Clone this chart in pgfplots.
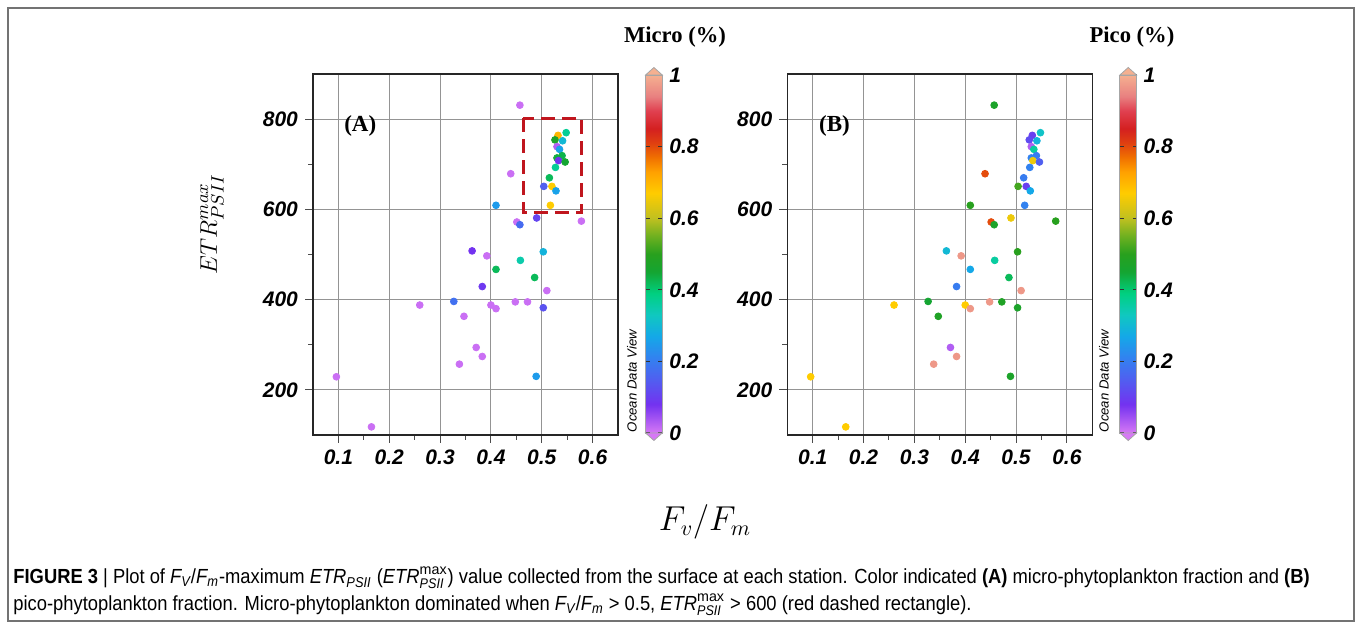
\documentclass[border=0pt]{standalone}
\usepackage{pgfplots}
\usepackage{pgfplotstable}
\pgfplotsset{compat=1.18}
\usepackage{fontspec}
\setmainfont{Liberation Sans}
\newfontfamily\seriffont{Liberation Serif}
\newfontfamily\capfont[FakeStretch=0.9]{Liberation Sans}

\definecolor{cbtop}{RGB}{245,176,144}
\definecolor{cbbot}{RGB}{214,120,245}
\definecolor{boxred}{RGB}{192,22,30}

\pgfplotsset{colormap={odv}{
rgb255(0pt)=(214,120,245)
rgb255(8pt)=(115,50,240)
rgb255(15pt)=(80,95,240)
rgb255(21pt)=(50,130,240)
rgb255(27pt)=(20,168,232)
rgb255(33pt)=(16,200,192)
rgb255(39pt)=(0,208,128)
rgb255(45pt)=(20,165,50)
rgb255(50pt)=(40,160,30)
rgb255(55pt)=(110,176,32)
rgb255(60pt)=(192,192,32)
rgb255(67pt)=(255,204,0)
rgb255(73pt)=(255,160,0)
rgb255(77pt)=(240,112,0)
rgb255(81pt)=(224,64,16)
rgb255(85pt)=(212,32,32)
rgb255(90pt)=(224,64,80)
rgb255(94pt)=(232,128,128)
rgb255(100pt)=(245,176,144)
}}

\pgfplotstableread{
x y micro pico
0.457 831 0.01 0.47
0.532 764 0.70 0.10
0.548 770 0.37 0.32
0.526 754 0.47 0.12
0.541 752 0.30 0.29
0.530 739 0.03 0.03
0.535 733 0.26 0.36
0.540 719 0.43 0.20
0.530 714 0.44 0.21
0.533 708 0.08 0.65
0.546 705 0.45 0.15
0.527 693 0.37 0.21
0.515 670 0.42 0.20
0.504 651 0.15 0.52
0.520 651 0.67 0.10
0.528 641 0.26 0.27
0.517 609 0.67 0.21
0.439 679 0.01 0.80
0.410 609 0.25 0.50
0.490 581 0.11 0.65
0.451 572 0.01 0.80
0.457 566 0.17 0.47
0.578 574 0.01 0.50
0.363 508 0.08 0.30
0.392 497 0.01 0.97
0.503 506 0.29 0.50
0.458 487 0.35 0.36
0.410 467 0.42 0.27
0.486 449 0.42 0.42
0.383 429 0.09 0.20
0.510 420 0.01 0.97
0.260 388 0.01 0.67
0.327 396 0.18 0.45
0.400 388 0.01 0.67
0.410 380 0.01 0.97
0.448 395 0.01 0.97
0.472 395 0.01 0.48
0.503 382 0.13 0.47
0.347 363 0.01 0.48
0.371 294 0.01 0.03
0.383 274 0.01 0.97
0.338 257 0.01 0.97
0.489 230 0.25 0.47
0.096 229 0.01 0.67
0.165 118 0.01 0.67
}\data

\pgfplotsset{
 odvaxis/.style={
  scale only axis, width=152.5pt, height=180.5pt,
  xmin=0.05, xmax=0.65, ymin=100, ymax=900,
  xtick={0.1,0.2,0.3,0.4,0.5,0.6},
  xticklabels={0.1,0.2,0.3,0.4,0.5,0.6},
  ytick={200,400,600,800},
  minor x tick num=1, minor y tick num=1,
  grid=major, major grid style={black!42, line width=0.55pt},
  axis line style={black!85, line width=0.7pt},
  tick align=outside, tick pos=left,
  major tick length=4pt, minor tick length=2.5pt,
  every tick/.style={black!70, line width=0.5pt},
  ticklabel style={font=\fontsize{10.5}{12}\selectfont\bfseries\itshape},
  /pgf/number format/assume math mode=true,
  colormap name=odv, point meta min=0, point meta max=1,
  colorbar,
 },
 odvcb/.style={
  width=8.35pt, height=179pt,
  at={(parent axis.south east)}, anchor=south west, xshift=5.25pt, yshift=1pt,
  ytick={0,0.2,0.4,0.6,0.8,1}, yticklabels={0,0.2,0.4,0.6,0.8,1},
  ytick pos=both, yticklabel pos=right,
  tick align=inside, major tick length=2pt,
  every tick/.style={black!80, line width=0.5pt},
  axis line style={black!35, line width=0.4pt},
  yticklabel style={font=\fontsize{10.5}{12}\selectfont\bfseries\itshape},
  /pgf/number format/assume math mode=true,
 },
 odvscatter/.style={scatter, only marks, mark=*, mark size=1.7pt,
  scatter src=explicit,
  scatter/use mapped color={draw=mapped color, fill=mapped color}},
}

\begin{document}
\begin{tikzpicture}
\path[use as bounding box] (0pt,0pt) rectangle (678.5pt,-312.5pt);

\begin{axis}[odvaxis, name=A, at={(156.5pt,-217.5pt)}, anchor=south west,
  colorbar style={odvcb, name=cbA}]
\addplot[odvscatter] table[x=x, y=y, meta=micro] {\data};
\draw[boxred, line width=1.5pt, dash pattern=on 7pt off 3.5pt]
  (axis cs:0.464,802) rectangle (axis cs:0.578,593);
\node[font=\seriffont\bfseries\fontsize{11.5}{13}\selectfont] at (axis cs:0.143,785) {(A)};
\end{axis}

\begin{axis}[odvaxis, name=B, at={(393.65pt,-217.5pt)}, anchor=south west,
  colorbar style={odvcb, name=cbB}]
\addplot[odvscatter] table[x=x, y=y, meta=pico] {\data};
\node[font=\seriffont\bfseries\fontsize{11.5}{13}\selectfont] at (axis cs:0.143,785) {(B)};
\end{axis}

\foreach \cb in {cbA,cbB}{
  \filldraw[fill=cbtop, draw=black!35, line width=0.4pt]
    (\cb.north west) -- ([yshift=3.75pt]\cb.north) -- (\cb.north east) -- cycle;
  \filldraw[fill=cbbot, draw=black!35, line width=0.4pt]
    (\cb.south west) -- ([yshift=-3.75pt]\cb.south) -- (\cb.south east) -- cycle;
}

\begin{scope}[x=0.5pt, y=-0.5pt]
\draw[black!55, line width=1pt] (8,8) rectangle (1354,621);
\node[anchor=base, font=\seriffont\bfseries\fontsize{11.3}{13}\selectfont] at (675,43) {Micro (\%)};
\node[anchor=base, font=\seriffont\bfseries\fontsize{11.3}{13}\selectfont] at (1132,43) {Pico (\%)};
\node[rotate=90, font=\itshape\fontsize{6.6}{7}\selectfont] at (632,381) {Ocean Data View};
\node[rotate=90, font=\itshape\fontsize{6.6}{7}\selectfont] at (1104,381) {Ocean Data View};
\node[rotate=90, font=\fontsize{12.7}{14}\selectfont] at (212,224) {$ETR^{max}_{PSII}$};
\node[font=\fontsize{16}{18}\selectfont] at (705,522) {$F_v/F_m$};
\node[anchor=base west, inner sep=0pt, font=\capfont\fontsize{10.2}{11}\selectfont] at (13,584)
 {\textbf{FIGURE 3} | Plot of \textit{F\textsubscript{V}}/\textit{F\textsubscript{m}}-maximum \textit{ETR\textsubscript{PSII}} ($\mbox{\itshape ETR}^{\mathrm{max}}_{\mbox{\scriptsize\itshape PSII}}$) value collected from the surface at each station. Color indicated \textbf{(A)} micro-phytoplankton fraction and \textbf{(B)}};
\node[anchor=base west, inner sep=0pt, font=\capfont\fontsize{10.2}{11}\selectfont] at (13,611)
 {pico-phytoplankton fraction. Micro-phytoplankton dominated when \textit{F\textsubscript{V}}/\textit{F\textsubscript{m}} {>} 0.5, $\mbox{\itshape ETR}^{\mathrm{max}}_{\mbox{\scriptsize\itshape PSII}}$ {>} 600 (red dashed rectangle).};
\end{scope}
\end{tikzpicture}
\end{document}
